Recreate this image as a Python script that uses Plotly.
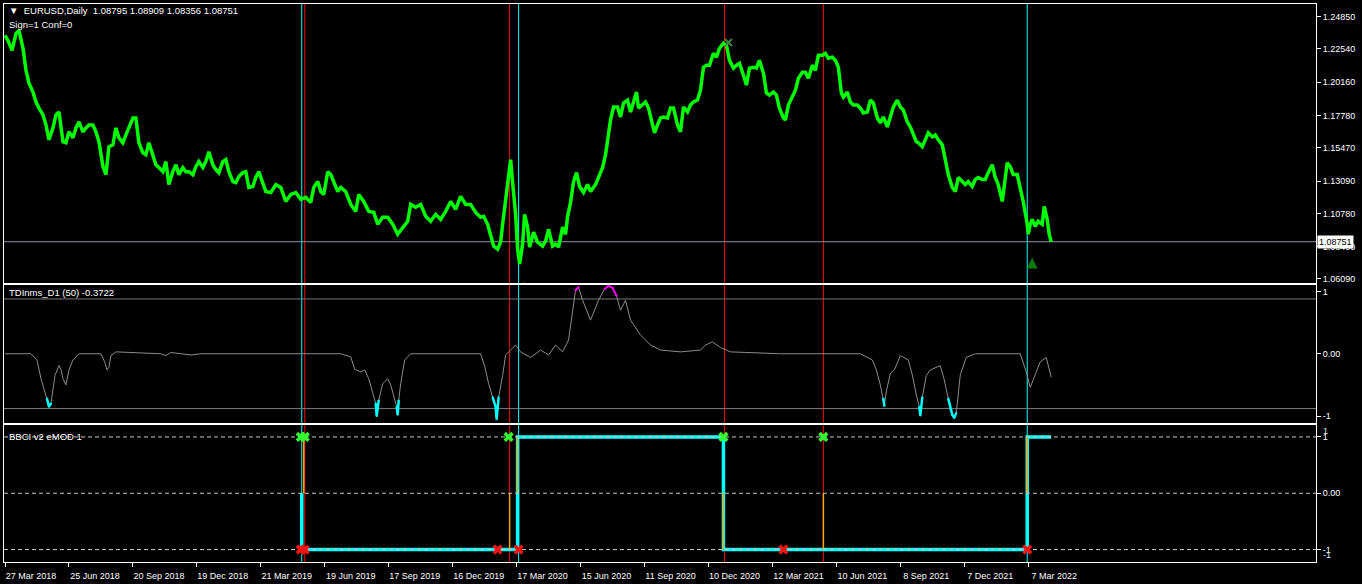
import plotly.graph_objects as go

# ---------------- data ----------------
tick_bars = [0, 64, 128, 192, 256, 320, 384, 448, 512, 576, 640, 704, 768, 832, 896, 960, 1024]
tick_dates = ["27 Mar 2018", "25 Jun 2018", "20 Sep 2018", "19 Dec 2018", "21 Mar 2019",
              "19 Jun 2019", "17 Sep 2019", "16 Dec 2019", "17 Mar 2020", "15 Jun 2020",
              "11 Sep 2020", "10 Dec 2020", "12 Mar 2021", "10 Jun 2021", "8 Sep 2021",
              "7 Dec 2021", "7 Mar 2022"]

price_ticks = [1.24850, 1.22540, 1.20160, 1.17780, 1.15470, 1.13090, 1.10780, 1.08400, 1.06090]

price_bars = [0, 3, 7, 11, 14, 18, 21, 24, 28, 31, 34, 38, 41, 44, 48, 51, 54, 58, 61, 64, 68, 71, 74, 78,
              81, 84, 88, 91, 94, 98, 101, 104, 108, 111, 114, 118, 121, 124, 128, 131, 134, 138, 141,
              144, 148, 151, 154, 158, 161, 164, 168, 171, 174, 178, 181, 184, 188, 191, 194, 198, 201,
              204, 208, 211, 214, 218, 221, 224, 228, 231, 234, 238, 241, 244, 248, 251, 254, 258, 261,
              266, 271, 276, 281, 286, 291, 296, 301, 306, 309, 313, 316, 319, 323, 326, 329, 333, 336,
              341, 346, 351, 354, 359, 364, 369, 373, 378, 383, 388, 393, 398, 403, 406, 411, 416, 421,
              426, 431, 436, 441, 446, 451, 456, 461, 466, 471, 476, 479, 483, 486, 489, 493, 496, 498,
              501, 504, 506, 508, 511, 513, 515, 518, 520, 523, 525, 529, 533, 538, 541, 544, 548, 551,
              554, 558, 561, 563, 566, 569, 572, 575, 579, 583, 586, 591, 594, 598, 601, 603, 606, 609,
              613, 616, 619, 623, 626, 629, 632, 634, 638, 641, 644, 648, 650, 653, 656, 659, 663, 666,
              669, 673, 676, 679, 683, 686, 689, 693, 696, 699, 702, 705, 709, 712, 715, 719, 722, 725,
              729, 732, 735, 739, 742, 745, 749, 752, 755, 759, 762, 765, 769, 772, 775, 779, 781, 784,
              788, 791, 794, 798, 801, 804, 808, 811, 814, 818, 821, 824, 828, 831, 834, 837, 839, 843,
              846, 849, 853, 856, 859, 863, 866, 869, 873, 876, 879, 883, 886, 889, 893, 896, 899, 903,
              906, 909, 912, 914, 918, 921, 924, 928, 931, 934, 938, 941, 944, 948, 951, 954, 958, 961,
              964, 968, 971, 974, 978, 981, 984, 988, 991, 994, 998, 1000, 1003, 1006, 1009, 1013, 1016,
              1019, 1023, 1024, 1026, 1028, 1031, 1034, 1038, 1040, 1043, 1045, 1047]
price_close = [1.2350, 1.2314, 1.2243, 1.2364, 1.2386, 1.2258, 1.2101, 1.2009, 1.1945, 1.1874, 1.1831,
               1.1782, 1.1710, 1.1604, 1.1689, 1.1782, 1.1803, 1.1590, 1.1583, 1.1661, 1.1618, 1.1689,
               1.1732, 1.1661, 1.1689, 1.1710, 1.1710, 1.1661, 1.1590, 1.1412, 1.1355, 1.1554, 1.1568,
               1.1689, 1.1618, 1.1583, 1.1639, 1.1689, 1.1760, 1.1760, 1.1583, 1.1511, 1.1497, 1.1583,
               1.1497, 1.1426, 1.1405, 1.1376, 1.1448, 1.1284, 1.1376, 1.1426, 1.1355, 1.1405, 1.1376,
               1.1376, 1.1355, 1.1412, 1.1448, 1.1405, 1.1448, 1.1519, 1.1426, 1.1391, 1.1369, 1.1448,
               1.1462, 1.1376, 1.1305, 1.1298, 1.1341, 1.1369, 1.1376, 1.1263, 1.1270, 1.1334, 1.1376,
               1.1284, 1.1234,
               1.1227, 1.1284, 1.1263, 1.1163, 1.1213, 1.1227, 1.1178, 1.1192, 1.1156, 1.1263, 1.1305,
               1.1234, 1.1213, 1.1376, 1.1355, 1.1298, 1.1234, 1.1263, 1.1234, 1.1142, 1.1092, 1.1213,
               1.1163, 1.1092, 1.1085, 1.1000, 1.1050, 1.1050, 1.1000, 1.0929, 1.0979, 1.1021, 1.1142,
               1.1121, 1.1142, 1.1057, 1.1021, 1.1071, 1.1035, 1.1092, 1.1163, 1.1106, 1.1199, 1.1142,
               1.1142, 1.1085, 1.1050, 1.1057, 1.1000, 1.0929, 1.0844, 1.0822, 1.0872, 1.1000, 1.1178,
               1.1320, 1.1462, 1.1298, 1.1071, 1.0822, 1.0716, 1.0858, 1.1071, 1.0979, 1.0837,
               1.0943, 1.0872, 1.0844, 1.0879, 1.0964, 1.0844, 1.0858, 1.0837, 1.0979, 1.0929, 1.1057,
               1.1156, 1.1305, 1.1369, 1.1270, 1.1227, 1.1284, 1.1234, 1.1284, 1.1334, 1.1405, 1.1497,
               1.1604, 1.1746, 1.1838, 1.1838, 1.1767, 1.1867, 1.1888, 1.1803, 1.1874, 1.1945, 1.1831,
               1.1853, 1.1874, 1.1831, 1.1710, 1.1654, 1.1710, 1.1760, 1.1767, 1.1760, 1.1831, 1.1831,
               1.1710, 1.1661, 1.1838, 1.1803, 1.1853, 1.1874, 1.1888, 1.1959, 1.2123, 1.2137, 1.2137,
               1.2222, 1.2194, 1.2258, 1.2293, 1.2279, 1.2172, 1.2116, 1.2137, 1.2151, 1.2066, 1.1995,
               1.2116, 1.2123, 1.2116, 1.2172, 1.2080, 1.1938, 1.1924, 1.1945, 1.1924, 1.1831, 1.1760,
               1.1746, 1.1853, 1.1909, 1.1959,
               1.2044, 1.2087, 1.2087, 1.2044, 1.2137, 1.2101, 1.2208, 1.2208, 1.2222, 1.2187, 1.2194,
               1.2172, 1.2123, 1.1938, 1.1909, 1.1945, 1.1874, 1.1853, 1.1853, 1.1831, 1.1796, 1.1803,
               1.1888, 1.1867, 1.1760, 1.1725, 1.1767, 1.1696, 1.1767, 1.1838, 1.1888, 1.1838, 1.1817,
               1.1732, 1.1696, 1.1639, 1.1590, 1.1583, 1.1554, 1.1604, 1.1654, 1.1625, 1.1639, 1.1604,
               1.1568, 1.1462, 1.1355, 1.1263, 1.1234, 1.1334, 1.1305, 1.1284, 1.1305, 1.1270, 1.1320,
               1.1334, 1.1320, 1.1320, 1.1369, 1.1426, 1.1334, 1.1284, 1.1163, 1.1284, 1.1440, 1.1412,
               1.1355, 1.1355, 1.1263, 1.1163, 1.1000, 1.0929, 1.1000, 1.1035, 1.0986, 1.1021, 1.1000,
               1.1128, 1.1035, 1.0929, 1.08751]
last_price = 1.08751

# TDInms indicator (middle pane)
td_bars = [0, 26, 32, 36, 40, 42, 44, 46, 50, 54, 56, 58, 61, 64, 68, 74, 96, 100, 102, 104, 106, 111, 156,
           161, 166, 186, 196, 246, 286, 296, 306, 336, 346, 350, 356, 360, 364, 368, 371, 372, 374, 378,
           383, 386, 389, 392, 393, 394, 396, 400, 406, 476, 480, 484, 488, 491, 492, 494, 498, 501, 506,
           511, 516, 526, 536, 544, 551, 558, 564, 568, 571, 574, 578, 586, 594, 600, 604, 608, 612, 616,
           621, 626, 636, 646, 656, 676, 696, 701, 708, 716, 726, 776, 856, 868, 872, 876, 879, 880, 882,
           886, 890, 896, 904, 908, 912, 915, 916, 918, 922, 926, 936, 940, 944, 946, 948, 950, 952, 956,
           962, 971, 1016, 1022, 1026, 1030, 1036, 1042, 1047]
td_vals = [0, 0, -0.10, -0.40, -0.62, -0.72, -0.85, -0.80, -0.35, -0.19, -0.25, -0.40, -0.50, -0.26, -0.10,
           0, 0, -0.14, -0.26, -0.22, -0.03, 0.03, 0, -0.03, 0.02, -0.02, 0, 0, 0, 0, 0, 0, -0.05, -0.25,
           -0.29, -0.26, -0.40, -0.62, -0.80, -1.00, -0.75, -0.48, -0.40, -0.50, -0.66, -0.85, -0.98, -0.75,
           -0.48, -0.10, 0, 0, -0.20, -0.48, -0.70, -0.85, -1.05, -0.70, -0.35, -0.02, 0.06, 0.14, 0.03,
           -0.06, 0.06, -0.02, 0.14, 0.03, 0.22, 0.70, 1.02, 1.07, 0.86, 0.54, 0.86, 1.04, 1.09, 1.06,
           0.93, 0.70, 0.86, 0.54, 0.30, 0.14, 0.06, 0.03, 0.06, 0.14, 0.19, 0.10, 0.03, 0, 0, -0.10,
           -0.26, -0.50, -0.72, -0.84, -0.60, -0.32, -0.26, -0.03, -0.10, -0.34, -0.66, -0.85, -0.99,
           -0.70, -0.35, -0.26, -0.19, -0.42, -0.72, -0.88, -0.98, -1.03, -0.95, -0.34, -0.06, 0, 0,
           -0.29, -0.54, -0.38, -0.13, -0.06, -0.3722]
td_levels = [0.88, -0.88]
td_hi_cut = 0.88
td_lo_cut = -0.70

# BBCI v2 eMOD (bottom pane)
bb_step_bars = [297, 297, 513, 719, 1023, 1047]
bb_step_vals = [0, -1, 1, -1, 1, 1]
bb_conf_bars = [299, 505, 513, 719, 819, 1023]
bb_conf_from = [1, 0, 1, 0, 0, 1]
bb_conf_to = [0, -1, 0, -1, -1, 0]
bb_buy_bars = [296, 300, 504, 719, 819]
bb_sell_bars = [296, 300, 493, 514, 779, 1023]
bb_levels = [1, 0, -1]

cyan_vlines = [297, 514, 1023]
red_vlines = [300, 505, 720, 819]

arrow_up_bars = [1028, 519]
arrow_up_prices = [1.0762, 1.0592]
mark_x_bar = [724]
mark_x_price = [1.2300]

# ---------------- figure ----------------
W, H = 1362, 584
ML, MR, MT, MB = 3, 46, 3, 21
PW, PH = W - ML - MR, H - MT - MB
FONT = "Liberation Sans"


def pxx(x):
    return (x - ML) / PW


def pxy(y):
    return (H - MB - y) / PH


fig = go.Figure()

# price
fig.add_trace(go.Scatter(x=price_bars, y=price_close, mode="lines",
                         line=dict(color="#00FF00", width=3.5), xaxis="x", yaxis="y",
                         hoverinfo="skip"))
fig.add_trace(go.Scatter(x=arrow_up_bars, y=arrow_up_prices, mode="markers",
                         marker=dict(symbol="arrow-up", size=11, color="#0e7a0e"),
                         xaxis="x", yaxis="y", hoverinfo="skip"))
fig.add_trace(go.Scatter(x=mark_x_bar, y=mark_x_price, mode="markers",
                         marker=dict(symbol="x-thin", size=7, line=dict(color="#3d8a3d", width=2)),
                         xaxis="x", yaxis="y", hoverinfo="skip"))

# middle indicator
fig.add_trace(go.Scatter(x=td_bars, y=td_vals, mode="lines",
                         line=dict(color="#8c8c8c", width=1), xaxis="x2", yaxis="y2",
                         hoverinfo="skip"))
cy = [v if v <= td_lo_cut else None for v in td_vals]
mg = [v if v >= td_hi_cut else None for v in td_vals]
fig.add_trace(go.Scatter(x=td_bars, y=cy, mode="lines+markers",
                         line=dict(color="#00FFFF", width=2.5), marker=dict(size=2, color="#00FFFF"),
                         xaxis="x2", yaxis="y2", hoverinfo="skip", connectgaps=False))
fig.add_trace(go.Scatter(x=td_bars, y=mg, mode="lines+markers",
                         line=dict(color="#FF00FF", width=2), marker=dict(size=2, color="#FF00FF"),
                         xaxis="x2", yaxis="y2", hoverinfo="skip", connectgaps=False))

# bottom BBCI
fig.add_trace(go.Scatter(x=bb_step_bars, y=bb_step_vals, mode="lines",
                         line=dict(color="#00FFFF", width=3.5, shape="hv"),
                         xaxis="x3", yaxis="y3", hoverinfo="skip"))
cx, cyv = [], []
for b, f, t in zip(bb_conf_bars, bb_conf_from, bb_conf_to):
    cx += [b, b, None]
    cyv += [f, t, None]
fig.add_trace(go.Scatter(x=cx, y=cyv, mode="lines", line=dict(color="#FFA500", width=1.5),
                         xaxis="x3", yaxis="y3", hoverinfo="skip"))
for lv in bb_levels:
    fig.add_trace(go.Scatter(x=[-1, 1312], y=[lv, lv], mode="lines",
                             line=dict(color="#c8c8c8", width=1, dash="4px,3px"),
                             xaxis="x3", yaxis="y3", hoverinfo="skip"))
fig.add_trace(go.Scatter(x=bb_buy_bars, y=[1] * len(bb_buy_bars), mode="markers",
                         marker=dict(symbol="x", size=9, color="#33FF33"),
                         xaxis="x3", yaxis="y3", hoverinfo="skip"))
fig.add_trace(go.Scatter(x=bb_sell_bars, y=[-1] * len(bb_sell_bars), mode="markers",
                         marker=dict(symbol="x", size=9, color="#FF1010"),
                         xaxis="x3", yaxis="y3", hoverinfo="skip"))

shapes = []
# current price line
shapes.append(dict(type="line", xref="x", yref="y", x0=-1, x1=1312, y0=last_price, y1=last_price,
                   line=dict(color="#8895a5", width=1), layer="below"))
for lv in td_levels:
    shapes.append(dict(type="line", xref="x2", yref="y2", x0=-1, x1=1312, y0=lv, y1=lv,
                       line=dict(color="#7a7a7a", width=1), layer="below"))
for b in cyan_vlines:
    shapes.append(dict(type="line", xref="x", yref="paper", x0=b, x1=b, y0=0, y1=1,
                       line=dict(color="#00FFFF", width=1), layer="below"))
for b in red_vlines:
    shapes.append(dict(type="line", xref="x", yref="paper", x0=b, x1=b, y0=0, y1=1,
                       line=dict(color="#FF0000", width=1), layer="below"))

tf = dict(family=FONT, size=9, color="white")
lf = dict(family=FONT, size=9.5, color="white")
annotations = [
    dict(x=pxx(6), y=pxy(10), xref="paper", yref="paper", xanchor="left", yanchor="middle",
         text="▼  EURUSD,Daily  1.08795 1.08909 1.08356 1.08751", showarrow=False, font=lf),
    dict(x=pxx(6), y=pxy(24), xref="paper", yref="paper", xanchor="left", yanchor="middle",
         text="Sign=1 Conf=0", showarrow=False, font=lf),
    dict(x=pxx(6), y=pxy(293), xref="paper", yref="paper", xanchor="left", yanchor="middle",
         text="TDInms_D1 (50) -0.3722", showarrow=False, font=lf),
    dict(x=pxx(6), y=pxy(437), xref="paper", yref="paper", xanchor="left", yanchor="middle",
         text="BBCI v2 eMOD 1", showarrow=False, font=lf),
    dict(x=1.0, y=last_price, xref="paper", yref="y", xanchor="left", yanchor="middle", xshift=1,
         text="1.08751", showarrow=False, bgcolor="white", borderpad=1,
         font=dict(family=FONT, size=9, color="black")),
    dict(x=1.0, y=1.1, xref="paper", yref="y3", xanchor="left", yanchor="middle", xshift=5,
         text="1", showarrow=False, font=dict(family=FONT, size=9, color="#d8e8ff")),
    dict(x=1.0, y=-1.1, xref="paper", yref="y3", xanchor="left", yanchor="middle", xshift=5,
         text="-1", showarrow=False, font=dict(family=FONT, size=9, color="#d8e8ff")),
]

xcommon = dict(range=[-1, 1312], showgrid=False, zeroline=False, showline=True, mirror=True,
               linecolor="white", linewidth=1)
ycommon = dict(side="right", showgrid=False, zeroline=False, showline=True, mirror=True,
               linecolor="white", linewidth=1, ticks="outside", ticklen=4, tickcolor="white",
               tickfont=tf)

fig.update_layout(
    width=W, height=H, margin=dict(l=ML, r=MR, t=MT, b=MB),
    paper_bgcolor="black", plot_bgcolor="black", showlegend=False,
    xaxis=dict(**xcommon, anchor="y", showticklabels=False, ticks=""),
    xaxis2=dict(**xcommon, anchor="y2", showticklabels=False, ticks="", matches="x"),
    xaxis3=dict(**xcommon, anchor="y3", matches="x", tickvals=tick_bars, ticktext=tick_dates,
                ticks="outside", ticklen=4, tickcolor="white", tickfont=tf, ticklabelshift=26,
                ticklabelstandoff=1),
    yaxis=dict(**ycommon, domain=[0.5, 1.0], range=[1.0580, 1.2575],
               tickvals=price_ticks, ticktext=[f"{v:.5f}" for v in price_ticks]),
    yaxis2=dict(**ycommon, domain=[0.25, 0.4964], range=[-1.104, 1.104],
                tickvals=[1, 0, -1], ticktext=["1", "0.00", "-1"]),
    yaxis3=dict(**ycommon, domain=[0.0, 0.2464], range=[-1.221, 1.221],
                tickvals=[1, 0, -1], ticktext=["1", "0.00", "-1"]),
    shapes=shapes, annotations=annotations,
)

fig.write_html("out.html", config={"displayModeBar": False, "staticPlot": True},
               post_script="document.body.style.margin='0';document.body.style.padding='0';"
                           "document.body.style.overflow='hidden';")
